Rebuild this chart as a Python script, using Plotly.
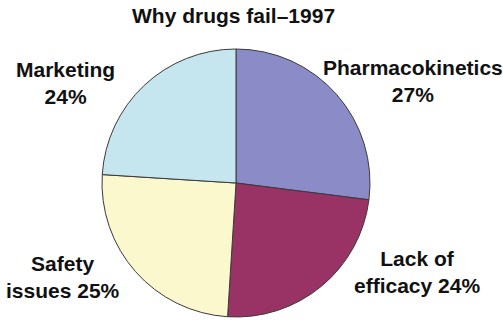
import plotly.graph_objects as go

# Causes of drug failure, 1997 (percent of failures)
causes = ["Pharmacokinetics", "Lack of efficacy", "Safety issues", "Marketing"]
shares = [27, 24, 25, 24]
# how each label is broken over two lines; "{v}" is replaced by the percentage
label_layouts = ["Pharmacokinetics<br>{v}%", "Lack of<br>efficacy {v}%",
                 "Safety<br>issues {v}%", "Marketing<br>{v}%"]
slice_colors = ["#8a8bc7", "#993366", "#fcf8cd", "#c5e6ef"]

W, H = 503, 322
# pie centre and radius in pixels
cx, cy, r = 236, 183, 134

fig = go.Figure(go.Pie(
    labels=causes,
    values=shares,
    sort=False,
    direction="clockwise",
    rotation=0,
    marker=dict(colors=slice_colors, line=dict(color="#3a3a3a", width=1)),
    textinfo="none",
    hoverinfo="label+percent",
    domain=dict(x=[(cx - r) / W, (cx + r) / W],
                y=[(H - cy - r) / H, (H - cy + r) / H]),
    showlegend=False,
))

# label anchor points (pixel centres) for each cause
label_px = [(413, 81), (417, 272), (63, 277), (65, 83)]

font = dict(family="Liberation Sans, Arial, sans-serif", size=21, color="#111111")
annotations = []
for layout_str, v, (px, py) in zip(label_layouts, shares, label_px):
    annotations.append(dict(
        text="<b>" + layout_str.format(v=v) + "</b>",
        x=px / W, y=1 - py / H, xref="paper", yref="paper",
        xanchor="center", yanchor="middle", showarrow=False,
        align="center", font=font,
    ))
annotations.append(dict(
    text="<b>Why drugs fail–1997</b>",
    x=233 / W, y=1 - 16 / H, xref="paper", yref="paper",
    xanchor="center", yanchor="middle", showarrow=False, font=font,
))

fig.update_layout(
    width=W, height=H,
    margin=dict(l=0, r=0, t=0, b=0),
    paper_bgcolor="white", plot_bgcolor="white",
    annotations=annotations,
)

fig.write_html("out.html", config={"displayModeBar": False})
